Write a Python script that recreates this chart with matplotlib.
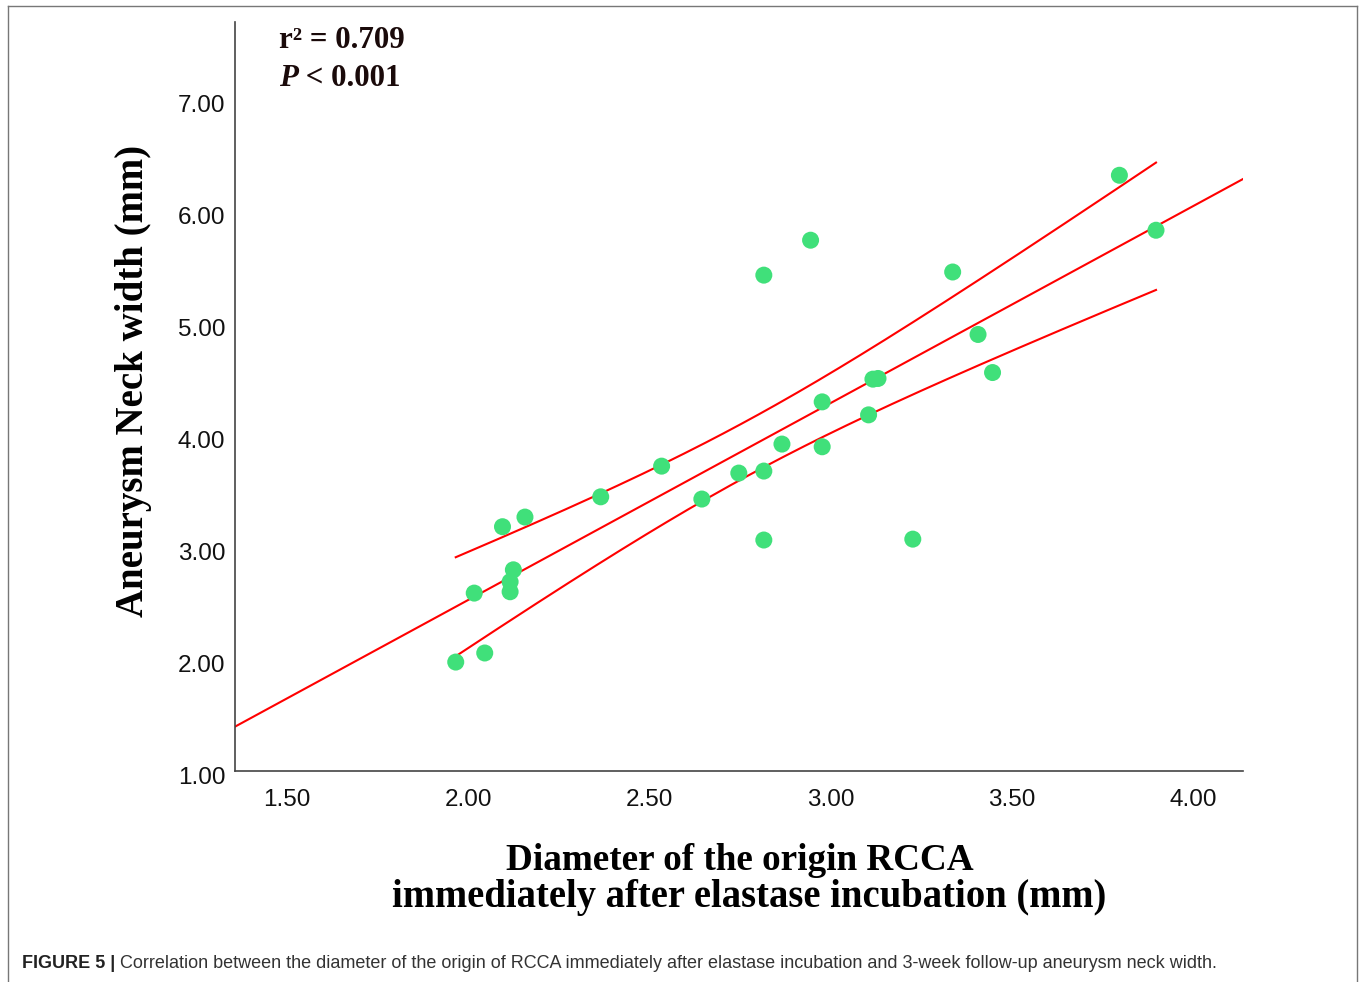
import numpy as np
import matplotlib
matplotlib.use("Agg")
import matplotlib.pyplot as plt
from matplotlib.lines import Line2D
from matplotlib.transforms import ScaledTranslation

# ---- data ----
diameter = [1.966, 2.046, 2.017, 2.095, 2.157, 2.125, 2.116, 2.116, 2.366,
            2.534, 2.645, 2.747, 2.816, 2.816, 2.816, 2.866, 2.945, 2.977,
            2.977, 3.105, 3.117, 3.131, 3.227, 3.337, 3.407, 3.447, 3.797, 3.898]
neck = [1.973, 2.054, 2.589, 3.182, 3.268, 2.797, 2.690, 2.601, 3.449,
        3.723, 3.429, 3.661, 3.679, 3.063, 5.429, 3.920, 5.741, 4.297,
        3.896, 4.181, 4.500, 4.506, 3.071, 5.457, 4.899, 4.559, 6.321, 5.830]
x_ticks = [1.5, 2.0, 2.5, 3.0, 3.5, 4.0]
y_ticks = [1.0, 2.0, 3.0, 4.0, 5.0, 6.0, 7.0]
r2_text = "r\u00b2 = 0.709"
p_text = "< 0.001"

x = np.array(diameter)
y = np.array(neck)

fig = plt.figure(figsize=(13.6, 9.82), dpi=100)
ax = fig.add_axes([235/1360, 1-771/982, (1243-235)/1360, (771-22)/982])

ax.scatter(x, y, s=150, color="#40E07A", edgecolors="none", zorder=3)

# linear fit and 95% CI of the mean
n = len(x)
b1, b0 = np.polyfit(x, y, 1)
resid = y - (b0 + b1*x)
s = np.sqrt(np.sum(resid**2)/(n-2))
tval = 2.056
xm = x.mean()
sxx = np.sum((x-xm)**2)
xl = np.array([1.357, 4.138])
ax.plot(xl, b0 + b1*xl, color="#FF0000", lw=1.5, zorder=2)
xc = np.linspace(x.min(), x.max(), 200)
yc = b0 + b1*xc
hw = tval*s*np.sqrt(1/n + (xc-xm)**2/sxx)
ax.plot(xc, yc+hw, color="#FF0000", lw=1.5, zorder=2)
ax.plot(xc, yc-hw, color="#FF0000", lw=1.5, zorder=2)

ax.set_xlim(1.357, 4.138)
ax.set_ylim(1.0, 7.69)
ax.set_xticks(x_ticks)
ax.set_xticklabels([f"{v:.2f}" for v in x_ticks])
ax.set_yticks(y_ticks)
ax.set_yticklabels([f"{v:.2f}" for v in y_ticks])
for sp in ["top", "right"]:
    ax.spines[sp].set_visible(False)
for sp in ["left", "bottom"]:
    ax.spines[sp].set_color("#444444")
    ax.spines[sp].set_linewidth(1.2)
ax.tick_params(axis="both", length=0, labelsize=17.5, colors="#111111")
ax.tick_params(axis="x", pad=13)
ax.tick_params(axis="y", pad=7)
for lab in ax.get_xticklabels() + ax.get_yticklabels():
    lab.set_fontfamily("Liberation Sans")
off = ScaledTranslation(0, -4/100, fig.dpi_scale_trans)
for lab in ax.get_yticklabels():
    lab.set_transform(lab.get_transform() + off)

serif = "Liberation Serif"
fig.text(133/1360, 1-381/982, "Aneurysm Neck width (mm)", rotation=90,
         ha="center", va="center", fontsize=28, fontweight="bold", family=serif)
fig.text(740/1360, 1-860/982, "Diameter of the origin RCCA",
         ha="center", va="center", fontsize=26.7, fontweight="bold", family=serif)
fig.text(749/1360, 1-898/982, "immediately after elastase incubation (mm)",
         ha="center", va="center", fontsize=27.8, fontweight="bold", family=serif)

# annotation
fig.text(279/1360, 1-41/982, r2_text, ha="left", va="center",
         fontsize=22.3, fontweight="bold", family=serif, color="#1a0a0a")
pt = fig.text(279/1360, 1-78/982, "P", ha="left", va="center",
              fontsize=22.3, fontweight="bold", fontstyle="italic", family=serif,
              color="#1a0a0a")
ax.annotate(" " + p_text, xy=(1, 0.5), xycoords=pt, ha="left", va="center",
            fontsize=22.3, fontweight="bold", family=serif, color="#1a0a0a",
            annotation_clip=False)

# caption
cap1 = fig.text(22/1360, 1-964/982, "FIGURE 5 |", ha="left", va="center",
                fontsize=13, fontweight="bold", family="Liberation Sans",
                color="#222222")
ax.annotate(" Correlation between the diameter of the origin of RCCA immediately after "
            "elastase incubation and 3-week follow-up aneurysm neck width.",
            xy=(1, 0.5), xycoords=cap1, ha="left", va="center", fontsize=13,
            family="Liberation Sans", color="#333333", annotation_clip=False)

# frame around figure
fc = "#777777"
fig.add_artist(Line2D([8/1360, 1357/1360], [1-6/982, 1-6/982], color=fc, lw=1, transform=fig.transFigure))
fig.add_artist(Line2D([8/1360, 8/1360], [0, 1-6/982], color=fc, lw=1, transform=fig.transFigure))
fig.add_artist(Line2D([1357/1360, 1357/1360], [0, 1-6/982], color=fc, lw=1, transform=fig.transFigure))

fig.savefig("out.png", dpi=100)
